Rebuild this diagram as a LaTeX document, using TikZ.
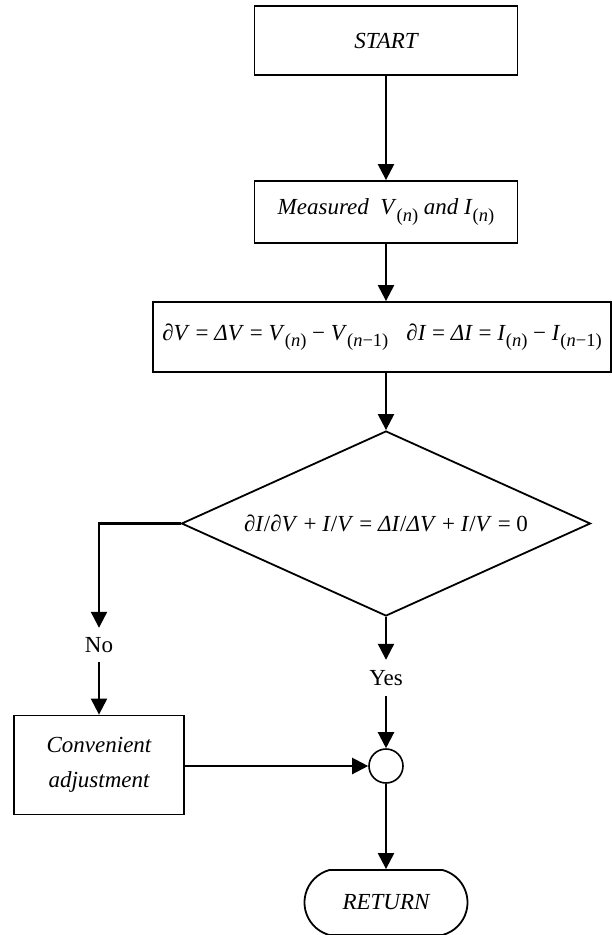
\documentclass[tikz,border=0pt]{standalone}
\usepackage{fontspec}
\setmainfont{Liberation Serif}
\usetikzlibrary{arrows.meta,shapes.geometric,shapes.misc}
\newcommand\vi[1]{\textit{#1}}
\newcommand\sbx[1]{\raisebox{-6.5pt}{\fontsize{18.5}{18.5}\selectfont #1}}
\begin{document}
\begin{tikzpicture}[x=1pt,y=-1pt,
  font=\fontsize{23}{27}\selectfont,
  box/.style={draw, rectangle, line width=1.8pt, inner sep=0pt, align=center},
  arr/.style={-{Triangle[length=16pt,width=16pt]}, line width=2.2pt},
  lbl/.style={inner sep=0pt}
]
\useasboundingbox (0,0) rectangle (612,935);

\node[box, minimum width=263, minimum height=69] (start) at (386,40.5) {\itshape START};
\node[box, minimum width=263, minimum height=62] (meas) at (386,212) {\vi{Measured\ \ V}\sbx{(\vi{n})} \vi{and I}\sbx{(\vi{n})}};
\node[box, minimum width=458, minimum height=70] (eq) at (382,337)
  {\vi{∂V} = \vi{ΔV} = \vi{V}\sbx{(\vi{n})} − \vi{V}\sbx{(\vi{n}−1)}\hspace{18pt}\vi{∂I} = \vi{ΔI} = \vi{I}\sbx{(\vi{n})} − \vi{I}\sbx{(\vi{n}−1)}};
\node[draw, diamond, line width=1.8pt, shape aspect=2.2, minimum width=409, minimum height=185, inner sep=0pt] (dia) at (386,523.5)
  {\vi{∂I}/\vi{∂V} + \vi{I}/\vi{V} = \vi{ΔI}/\vi{ΔV} + \vi{I}/\vi{V} = 0};
\node[lbl, minimum height=34] (no) at (99,645) {No};
\node[lbl, minimum height=36] (yes) at (386,678) {Yes};
\node[box, minimum width=170, minimum height=99, font=\fontsize{23}{35}\selectfont\itshape] (conv) at (99,765) {Convenient\\adjustment};
\node[draw, circle, line width=1.6pt, minimum size=34, inner sep=0pt] (circ) at (386,766) {};
\node[draw, rounded rectangle, rounded rectangle arc length=150, line width=1.8pt, minimum width=163, minimum height=65, inner sep=0pt] (ret) at (386,902.5) {\itshape RETURN};

\draw[arr] (start) -- (meas);
\draw[arr] (meas.south) -- (meas.south |- eq.north);
\draw[arr] (dia.north |- eq.south) -- (dia.north);
\draw[arr] (dia.west) -| (no.north);
\draw[arr] (no.south) -- (conv.north);
\draw[arr] (dia.south) -- (yes.north);
\draw[arr] (yes.south) -- (circ.north);
\draw[arr] (conv.east |- circ.west) -- (circ.west);
\draw[arr] (circ.south) -- (ret.north);
\end{tikzpicture}
\end{document}
